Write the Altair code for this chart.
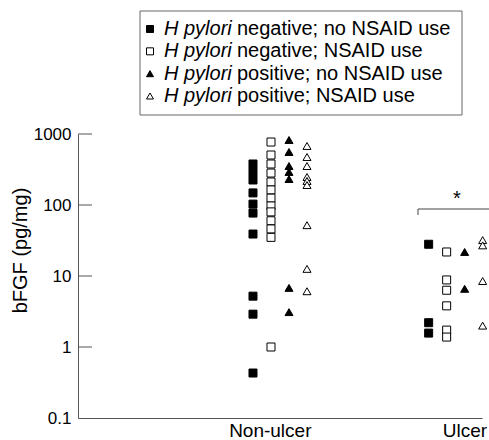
import altair as alt
import pandas as pd

# ---------------- data ----------------
groups = ["Non-ulcer", "Ulcer"]
subgroups = [
    "H pylori negative; no NSAID use",
    "H pylori negative; NSAID use",
    "H pylori positive; no NSAID use",
    "H pylori positive; NSAID use",
]
legend_italic = "H pylori"
legend_rest = [
    "negative; no NSAID use",
    "negative; NSAID use",
    "positive; no NSAID use",
    "positive; NSAID use",
]

# bFGF (pg/mg)
nonulcer_neg_nonsaid = [378, 292, 225, 148, 103, 77, 39, 5.2, 2.9, 0.43]
nonulcer_neg_nsaid = [771, 506, 378, 282, 211, 163, 125, 97, 80, 60, 46, 35, 1.0]
nonulcer_pos_nonsaid = [823, 558, 354, 292, 232, 6.8, 3.1]
nonulcer_pos_nsaid = [678, 474, 354, 248, 218, 191, 52, 12.6, 6.1]
ulcer_neg_nonsaid = [28, 2.2, 1.57]
ulcer_neg_nsaid = [21.8, 8.8, 6.3, 3.8, 1.73, 1.38]
ulcer_pos_nonsaid = [21.8, 6.6]
ulcer_pos_nsaid = [32, 27, 8.5, 2.0]

y_ticks = [0.1, 1, 10, 100, 1000]
significance = "*"

series = [
    (0, 0, nonulcer_neg_nonsaid),
    (0, 1, nonulcer_neg_nsaid),
    (0, 2, nonulcer_pos_nonsaid),
    (0, 3, nonulcer_pos_nsaid),
    (1, 0, ulcer_neg_nonsaid),
    (1, 1, ulcer_neg_nsaid),
    (1, 2, ulcer_pos_nonsaid),
    (1, 3, ulcer_pos_nsaid),
]
rows = []
for gi, si, vals in series:
    for v in vals:
        rows.append({"group": groups[gi], "gpos": gi + 1, "spos": si,
                     "subgroup": subgroups[si], "bfgf": v})
df = pd.DataFrame(rows)

FONT = "Liberation Sans"
AX = "#555555"

shape_scale = alt.Scale(domain=subgroups, range=["square", "square", "triangle-up", "triangle-up"])
fill_scale = alt.Scale(domain=subgroups, range=["black", "white", "black", "white"])
ylog = alt.Scale(type="log", domain=[0.1, 1000])

label_expr = f"datum.value == 1 ? '{groups[0]}' : '{groups[1]}'"

points = alt.Chart(df).transform_calculate(
    xpos="datum.gpos + (datum.spos - 1.5) * 0.1025"
).mark_point(filled=True, stroke="black", strokeWidth=1, opacity=1).encode(
    x=alt.X("xpos:Q", scale=alt.Scale(domain=[-0.15, 2.15]),
            axis=alt.Axis(values=[1, 2], labelExpr=label_expr, ticks=False, grid=False,
                          domainColor=AX, labelFontSize=19, labelFont=FONT, labelColor="black",
                          labelAlign="right", labelOffset=31, labelPadding=3, labelBaseline="top",
                          labelFlush=False, labelOverlap=False, title=None)),
    y=alt.Y("bfgf:Q", scale=ylog,
            axis=alt.Axis(values=y_ticks, format="~g", ticks=False, grid=False, domainColor=AX,
                          labelFontSize=17, labelFont=FONT, labelColor="black", labelPadding=7,
                          labelOverlap=False, title="bFGF (pg/mg)", titleFontSize=20,
                          titleFont=FONT, titleFontWeight="normal", titleColor="black",
                          titlePadding=3, titleY=116)),
    shape=alt.Shape("subgroup:N", scale=shape_scale, legend=None),
    fill=alt.Fill("subgroup:N", scale=fill_scale, legend=None),
    size=alt.Size("subgroup:N", scale=alt.Scale(domain=subgroups, range=[64, 64, 100, 100]), legend=None),
)

ticks = alt.Chart(pd.DataFrame({"v": y_ticks[1:]})).mark_rule(color=AX, strokeWidth=1).encode(
    y=alt.Y("v:Q", scale=ylog), x=alt.value(0), x2=alt.value(14)
)

one = pd.DataFrame({"a": [0]})
bracket = alt.Chart(one).mark_rule(color="#444444", strokeWidth=1).encode(
    x=alt.value(340), x2=alt.value(411), y=alt.value(75)
)
bracket_tick = alt.Chart(one).mark_rule(color="#444444", strokeWidth=1).encode(
    x=alt.value(340), y=alt.value(75), y2=alt.value(81)
)
star = alt.Chart(pd.DataFrame({"t": [significance]})).mark_text(
    fontSize=20, font=FONT, color="black", baseline="alphabetic", align="center"
).encode(x=alt.value(379), y=alt.value(71), text="t:N")

main = alt.layer(ticks, points, bracket, bracket_tick, star)

# ---------------- legend (with italic species name) ----------------
leg = pd.DataFrame({"subgroup": subgroups, "it": [legend_italic] * 4, "rest": legend_rest})
yleg = alt.Y("subgroup:N", scale=alt.Scale(type="point", domain=subgroups, range=[-105, -38], padding=0),
             axis=None)

box = alt.Chart(one).mark_rect(fillOpacity=0, stroke="#666666", strokeWidth=1).encode(
    x=alt.value(62), x2=alt.value(384), y=alt.value(-123), y2=alt.value(-19)
)
leg_sym = alt.Chart(leg).mark_point(filled=True, stroke="black", strokeWidth=1, opacity=1).encode(
    x=alt.value(72), y=yleg,
    shape=alt.Shape("subgroup:N", scale=shape_scale, legend=None),
    fill=alt.Fill("subgroup:N", scale=fill_scale, legend=None),
    size=alt.Size("subgroup:N", scale=alt.Scale(domain=subgroups, range=[49, 49, 64, 64]), legend=None),
)
leg_it = alt.Chart(leg).mark_text(align="left", baseline="middle", fontStyle="italic",
                                  fontSize=20, font=FONT, color="black").encode(
    x=alt.value(86), y=yleg, text="it:N"
)
leg_rest = alt.Chart(leg).mark_text(align="left", baseline="middle",
                                    fontSize=20, font=FONT, color="black").encode(
    x=alt.value(159), y=yleg, text="rest:N"
)
legend = alt.layer(box, leg_sym, leg_it, leg_rest)

chart = alt.layer(main, legend).resolve_scale(y="independent", size="independent").properties(
    width=404, height=284,
    padding={"left": 78, "top": 134, "right": 7, "bottom": 22},
    autosize="none",
).configure_view(stroke=None)

chart.save("out.html", embed_options={"renderer": "svg", "actions": False})
